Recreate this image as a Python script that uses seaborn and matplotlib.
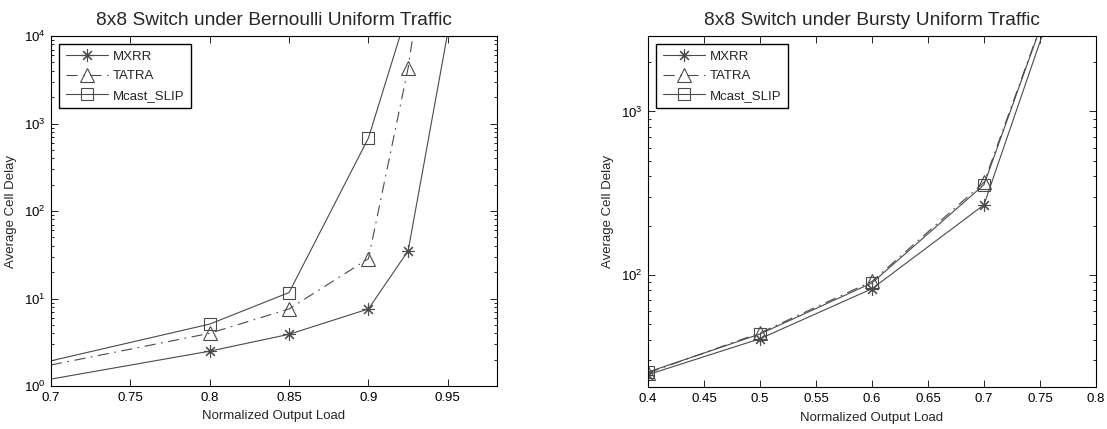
import numpy as np
import pandas as pd
import matplotlib
matplotlib.use("Agg")
import matplotlib.pyplot as plt
from matplotlib.ticker import (LogLocator, FixedLocator, FormatStrFormatter,
                               NullFormatter, LogFormatterSciNotation)
import seaborn as sns

# ---------------- data ----------------
series_names = ["MXRR", "TATRA", "Mcast_SLIP"]

# Left: Bernoulli uniform traffic
bern_load = [0.7, 0.8, 0.85, 0.9, 0.925, 0.95]
bern_mxrr = [1.2, 2.5, 3.9, 7.6, 35, 11000]
bern_tatra = [1.74, 4.0, 7.6, 28.5, 4300, 5.0e6]
bern_slip = [1.94, 5.1, 11.7, 683, 20000, 6.0e5]

# Right: Bursty uniform traffic
burst_load = [0.4, 0.5, 0.6, 0.7, 0.8]
burst_mxrr = [24.4, 40.5, 82, 268, 26600]
burst_tatra = [25.0, 44, 91, 368, 29000]
burst_slip = [25.3, 43.3, 89, 356, 29000]

bern_xticks = [0.7, 0.75, 0.8, 0.85, 0.9, 0.95]
burst_xticks = [0.4, 0.45, 0.5, 0.55, 0.6, 0.65, 0.7, 0.75, 0.8]

titles = ["8x8 Switch under Bernoulli Uniform Traffic",
          "8x8 Switch under Bursty Uniform Traffic"]
xlabel = "Normalized Output Load"
ylabel = "Average Cell Delay"

# ---------------- style ----------------
sns.set_style("ticks")
plt.rcParams["font.family"] = ["Liberation Sans", "DejaVu Sans"]
plt.rcParams["mathtext.fontset"] = "custom"
plt.rcParams["mathtext.rm"] = "Liberation Sans"
plt.rcParams["mathtext.it"] = "Liberation Sans:italic"

line_color = "#4a4a4a"
markers = [(8, 2, 0), "^", "s"]
styles = ["-", (0, (10, 5, 1.5, 5)), "-"]

fig = plt.figure(figsize=(11.07, 4.29), dpi=100)
W, H = 1107, 429
ax1 = fig.add_axes([51 / W, 1 - 386 / H, 446 / W, 350 / H])
ax2 = fig.add_axes([648 / W, 1 - 387 / H, 448 / W, 351 / H])


def draw(ax, xs, ys_list, skip_first):
    for name, ys, mk, ls in zip(series_names, ys_list, markers, styles):
        df = pd.DataFrame({"load": xs, "delay": ys})
        sns.lineplot(data=df, x="load", y="delay", ax=ax, color=line_color,
                     linewidth=0.8, linestyle=ls, marker=mk,
                     markersize=10 if mk == "^" else 9,
                     markerfacecolor="none", markeredgecolor=line_color,
                     markeredgewidth=0.8, label=name,
                     markevery=slice(1, None) if skip_first else None,
                     estimator=None, sort=False, legend=False)


draw(ax1, bern_load, [bern_mxrr, bern_tatra, bern_slip], True)
draw(ax2, burst_load, [burst_mxrr, burst_tatra, burst_slip], False)

for ax in (ax1, ax2):
    ax.set_yscale("log")
    ax.set_xlabel(xlabel, fontsize=9.5, labelpad=5)
    ax.set_ylabel(ylabel, fontsize=9.5, labelpad=5)
    ax.tick_params(which="both", direction="in", top=True, right=True,
                   labelsize=9.5, colors="black", width=0.6)
    ax.tick_params(which="major", length=5, pad=4)
    ax.tick_params(which="minor", length=2.5)
    for sp in ax.spines.values():
        sp.set_visible(True)
        sp.set_linewidth(0.8)
        sp.set_color("black")
    ax.yaxis.set_minor_locator(LogLocator(base=10, subs=np.arange(2, 10)))
    ax.yaxis.set_minor_formatter(NullFormatter())
    ax.grid(False)
    leg = ax.legend(loc="upper left", fontsize=9.5, frameon=True, fancybox=False,
                    framealpha=1, edgecolor="black", handlelength=3.2,
                    borderaxespad=0.6, labelspacing=0.55, handletextpad=0.4,
                    borderpad=0.5)
    leg.get_frame().set_linewidth(1.0)

ax1.set_xlim(0.7, 0.981)
ax1.set_ylim(1, 1e4)
ax1.xaxis.set_major_locator(FixedLocator(bern_xticks))
ax1.xaxis.set_major_formatter(FormatStrFormatter("%g"))
ax1.yaxis.set_major_locator(FixedLocator([1, 10, 100, 1000, 10000]))

ax2.set_xlim(0.4, 0.8)
ax2.set_ylim(20.5, 2900)
ax2.xaxis.set_major_locator(FixedLocator(burst_xticks))
ax2.xaxis.set_major_formatter(FormatStrFormatter("%g"))
ax2.yaxis.set_major_locator(FixedLocator([100, 1000]))

for ax in (ax1, ax2):
    ax.yaxis.set_major_formatter(LogFormatterSciNotation())

ax1.set_title(titles[0], fontsize=13.8, pad=8)
ax2.set_title(titles[1], fontsize=13.8, pad=8)

fig.savefig("out.png", dpi=100)
